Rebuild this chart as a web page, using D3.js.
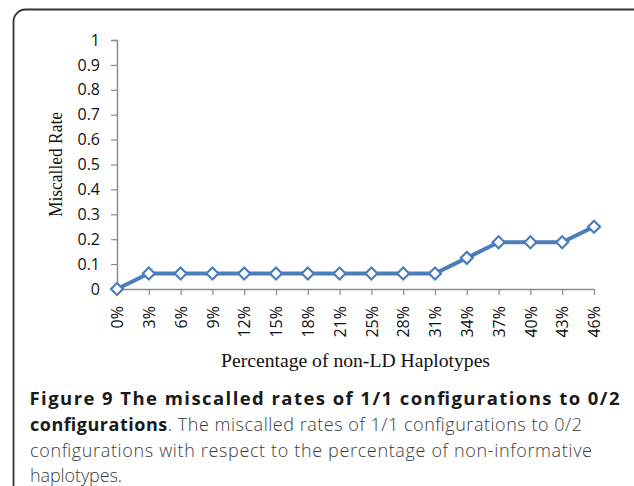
<!DOCTYPE html>
<html>
<head>
<meta charset="utf-8">
<script src="https://cdn.jsdelivr.net/npm/d3@7"></script>
<style>
  html, body { margin: 0; padding: 0; background: #fff; }
  svg { display: block; }
</style>
</head>
<body>
<svg id="chart" width="634" height="486"></svg>
<script>
// ---- data ----
const categories = ["0%","3%","6%","9%","12%","15%","18%","21%","25%","28%","31%","34%","37%","40%","43%","46%"];
const miscalledRate = [0, 0.0625, 0.0625, 0.0625, 0.0625, 0.0625, 0.0625, 0.0625, 0.0625, 0.0625, 0.0625, 0.125, 0.1875, 0.1875, 0.1875, 0.25];
const yTicks = [0, 0.1, 0.2, 0.3, 0.4, 0.5, 0.6, 0.7, 0.8, 0.9, 1];
const xTitle = "Percentage of non-LD Haplotypes";
const yTitle = "Miscalled Rate";
const captionBold1 = "Figure 9 The miscalled rates of 1/1 configurations to 0/2";
const captionBold2 = "configurations";
const captionRest2 = ". The miscalled rates of 1/1 configurations to 0/2";
const captionLine3 = "configurations with respect to the percentage of non-informative";
const captionLine4 = "haplotypes.";

const svg = d3.select("#chart");

// frame
svg.append("rect")
  .attr("x", 13.5).attr("y", 9.5)
  .attr("width", 632).attr("height", 500)
  .attr("rx", 12).attr("ry", 12)
  .attr("fill", "none").attr("stroke", "#333").attr("stroke-width", 1.8);

const x = d3.scalePoint().domain(categories).range([117, 594]);
const y = d3.scaleLinear().domain([0, 1]).range([289, 40]);

const axisColor = "#8c8c8c";

// y axis
const yAxis = svg.append("g").attr("transform", "translate(117,0)")
  .call(d3.axisLeft(y).tickValues(yTicks).tickSize(6).tickPadding(11)
    .tickFormat(d => d3.format("")(+d.toFixed(1))));
yAxis.select(".domain").attr("stroke", axisColor).attr("stroke-width", 1.5);
yAxis.selectAll(".tick line").attr("stroke", axisColor).attr("stroke-width", 1.2);
yAxis.selectAll(".tick text")
  .attr("font-family", "'Open Sans', sans-serif")
  .attr("font-size", 16).attr("fill", "#111");

// x axis
const xAxis = svg.append("g").attr("transform", "translate(0,289)")
  .call(d3.axisBottom(x).tickSize(6).tickSizeOuter(0));
xAxis.select(".domain").attr("stroke", axisColor).attr("stroke-width", 1.5);
xAxis.selectAll(".tick line").attr("stroke", axisColor).attr("stroke-width", 1.2);
xAxis.selectAll(".tick text")
  .attr("font-family", "'Open Sans', sans-serif")
  .attr("font-size", 16).attr("fill", "#111")
  .attr("text-anchor", "end")
  .attr("transform", "rotate(-90)")
  .attr("x", -17).attr("y", 0).attr("dy", "0.36em");

// axis titles
svg.append("text")
  .attr("x", 355.5).attr("y", 366.5)
  .attr("text-anchor", "middle")
  .attr("font-family", "'Liberation Serif', 'Times New Roman', serif")
  .attr("font-size", 19)
  .attr("textLength", 269).attr("lengthAdjust", "spacingAndGlyphs")
  .attr("fill", "#111")
  .text(xTitle);

svg.append("text")
  .attr("transform", "translate(61.5,164.5) rotate(-90)")
  .attr("text-anchor", "middle")
  .attr("font-family", "'Liberation Serif', 'Times New Roman', serif")
  .attr("font-size", 18)
  .attr("textLength", 105).attr("lengthAdjust", "spacingAndGlyphs")
  .attr("fill", "#111")
  .text(yTitle);

// series line
const blue = "#4A7EBB";
const line = d3.line().x((d, i) => x(categories[i])).y(d => y(d));
svg.append("path")
  .datum(miscalledRate)
  .attr("d", line)
  .attr("fill", "none").attr("stroke", blue)
  .attr("stroke-width", 4).attr("stroke-linejoin", "round");

// diamond markers
const diamond = d3.symbol().type(d3.symbolSquare).size(72);
svg.append("g").selectAll("path")
  .data(miscalledRate)
  .join("path")
  .attr("d", diamond)
  .attr("transform", (d, i) => `translate(${x(categories[i])},${y(d)}) rotate(45)`)
  .attr("fill", "#fff").attr("stroke", blue).attr("stroke-width", 2.2);

// caption
const capFont = "'Open Sans', sans-serif";
const capSize = 18;
svg.append("text")
  .attr("x", 29.5).attr("y", 405)
  .attr("font-family", capFont).attr("font-size", 18.5)
  .attr("font-weight", "bold").attr("fill", "#1a1a1a")
  .attr("textLength", 590).attr("lengthAdjust", "spacing")
  .text(captionBold1);

const l2 = svg.append("text")
  .attr("x", 30).attr("y", 431)
  .attr("font-family", capFont).attr("font-size", capSize)
  .attr("textLength", 552).attr("lengthAdjust", "spacing");
l2.append("tspan").attr("font-weight", "bold").attr("fill", "#1a1a1a").text(captionBold2);
l2.append("tspan").attr("fill", "#3c3c3c").attr("font-weight", 300).text(captionRest2);

svg.append("text")
  .attr("x", 30).attr("y", 456.5)
  .attr("font-family", capFont).attr("font-size", capSize)
  .attr("fill", "#3c3c3c").attr("font-weight", 300)
  .attr("textLength", 562).attr("lengthAdjust", "spacing")
  .text(captionLine3);

svg.append("text")
  .attr("x", 30).attr("y", 481.5)
  .attr("font-family", capFont).attr("font-size", capSize)
  .attr("fill", "#3c3c3c").attr("font-weight", 300)
  .attr("textLength", 92).attr("lengthAdjust", "spacing")
  .text(captionLine4);
</script>
</body>
</html>
